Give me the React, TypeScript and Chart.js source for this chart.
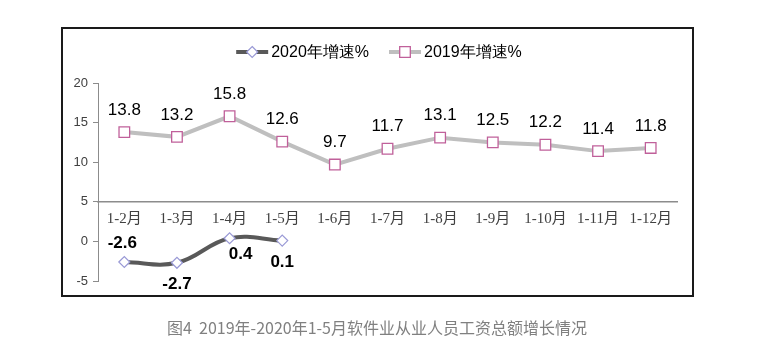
import React, { useEffect, useRef } from 'react';
import { Chart, registerables } from 'chart.js';

Chart.register(...registerables);

const categories = ['1-2月', '1-3月', '1-4月', '1-5月', '1-6月', '1-7月', '1-8月', '1-9月', '1-10月', '1-11月', '1-12月'];
const growth2020 = [-2.6, -2.7, 0.4, 0.1];
const growth2019 = [13.8, 13.2, 15.8, 12.6, 9.7, 11.7, 13.1, 12.5, 12.2, 11.4, 11.8];
const label2020 = '2020年增速%';
const label2019 = '2019年增速%';
const yMin = -5;
const yMax = 20;
const yStep = 5;
const caption = '图4  2019年-2020年1-5月软件业从业人员工资总额增长情况';
// where each 2020 value label sits relative to its point
const anchors2020 = ['above', 'below', 'belowRight', 'below'];

const W = 777;
const H = 361;

const LABEL_FONT = '"Liberation Sans", Arial, sans-serif';

const valueLabelsPlugin = {
  id: 'valueLabels',
  afterDatasetsDraw(chart: any) {
    const ctx = chart.ctx;
    ctx.save();
    ctx.textAlign = 'center';
    ctx.textBaseline = 'middle';
    ctx.fillStyle = '#000';
    chart.data.datasets.forEach((ds: any, di: number) => {
      const meta = chart.getDatasetMeta(di);
      const bold = ds.label === label2020;
      ctx.font = (bold ? 'bold ' : '') + '17px ' + LABEL_FONT;
      meta.data.forEach((pt: any, i: number) => {
        const v = ds.data[i];
        if (v === null || v === undefined) return;
        let dx = 0;
        let dy = -22;
        if (bold) {
          const a = anchors2020[i];
          if (a === 'above') { dx = -2; dy = -19; }
          else if (a === 'below') { dy = 22; }
          else if (a === 'belowRight') { dx = 11; dy = 16; }
        }
        ctx.fillText(v.toFixed(1), pt.x + dx, pt.y + dy);
      });
    });
    ctx.restore();
  },
};

const customLegendPlugin = {
  id: 'customLegend',
  afterDraw(chart: any) {
    const ctx = chart.ctx;
    const y = 52;
    const lineLen = 32;
    const gapText = 3;
    const itemGap = 20;
    const centerX = 379;
    ctx.save();
    ctx.font = '16px ' + LABEL_FONT;
    const items = chart.data.datasets.map((ds: any) => ({ ds, tw: ctx.measureText(ds.label).width }));
    const total = items.reduce((s: number, it: any) => s + lineLen + gapText + it.tw, 0) + itemGap * (items.length - 1);
    let x = centerX - total / 2;
    items.forEach((it: any) => {
      const ds = it.ds;
      ctx.strokeStyle = ds.borderColor;
      ctx.lineWidth = ds.borderWidth;
      ctx.lineCap = 'butt';
      ctx.beginPath();
      ctx.moveTo(x, y);
      ctx.lineTo(x + lineLen, y);
      ctx.stroke();
      ctx.fillStyle = ds.pointBackgroundColor;
      ctx.strokeStyle = ds.pointBorderColor;
      ctx.lineWidth = ds.pointBorderWidth;
      const cx = x + lineLen / 2;
      const r = ds.pointRadius;
      ctx.beginPath();
      if (ds.pointStyle === 'rectRot') {
        ctx.moveTo(cx, y - r);
        ctx.lineTo(cx + r, y);
        ctx.lineTo(cx, y + r);
        ctx.lineTo(cx - r, y);
        ctx.closePath();
      } else {
        const s = r * Math.SQRT1_2;
        ctx.rect(cx - s, y - s, 2 * s, 2 * s);
      }
      ctx.fill();
      ctx.stroke();
      ctx.fillStyle = '#000';
      ctx.textAlign = 'left';
      ctx.textBaseline = 'middle';
      ctx.fillText(ds.label, x + lineLen + gapText, y + 1);
      x += lineLen + gapText + it.tw + itemGap;
    });
    ctx.restore();
  },
};

export default function App() {
  const ref = useRef<HTMLCanvasElement | null>(null);

  useEffect(() => {
    if (!ref.current) return;
    const chart = new Chart(ref.current, {
      type: 'line',
      data: {
        labels: categories,
        datasets: [
          {
            label: label2020,
            data: growth2020,
            borderColor: '#595959',
            borderWidth: 4,
            tension: 0.4,
            pointStyle: 'rectRot',
            pointRadius: 5.5,
            pointBackgroundColor: '#ffffff',
            pointBorderColor: '#9a9ad6',
            pointBorderWidth: 1.2,
            fill: false,
          },
          {
            label: label2019,
            data: growth2019,
            borderColor: '#bfbfbf',
            borderWidth: 4,
            tension: 0,
            pointStyle: 'rect',
            pointRadius: 7.5,
            pointBackgroundColor: '#ffffff',
            pointBorderColor: '#c0609a',
            pointBorderWidth: 1.3,
            fill: false,
          },
        ] as any,
      },
      options: {
        animation: false,
        responsive: false,
        events: [],
        layout: { padding: { left: 48, right: 100, top: 83, bottom: 80 } },
        plugins: {
          legend: { display: false },
          tooltip: { enabled: false },
          title: { display: false },
        },
        scales: {
          x: {
            type: 'category',
            offset: true,
            position: { y: 5 } as any,
            grid: { display: true, drawOnChartArea: false, drawTicks: false, color: '#8c8c8c' },
            border: { display: true, color: '#8c8c8c', width: 1.5 },
            ticks: {
              padding: 8,
              color: '#404040',
              maxRotation: 0,
              autoSkip: false,
              font: { family: '"Liberation Serif", "Noto Sans CJK SC", serif', size: 15 },
            },
          },
          y: {
            min: yMin,
            max: yMax,
            afterFit(scale: any) { scale.width = 50; },
            grid: { display: true, drawOnChartArea: false, drawTicks: true, tickLength: 5, color: '#8c8c8c' },
            border: { display: true, color: '#8c8c8c', width: 1 },
            ticks: {
              stepSize: yStep,
              padding: 5,
              color: '#404040',
              font: { family: LABEL_FONT, size: 13 },
            },
          },
        },
      },
      plugins: [valueLabelsPlugin, customLegendPlugin],
    });
    return () => chart.destroy();
  }, []);

  return (
    <div style={{ position: 'absolute', left: 0, top: 0, width: W, height: H, background: '#fff' }}>
      <canvas ref={ref} width={W} height={H} style={{ position: 'absolute', left: 0, top: 0 }} />
      <div
        style={{
          position: 'absolute',
          left: 61,
          top: 27,
          width: 633,
          height: 270,
          border: '2px solid #1a1a1a',
          boxSizing: 'border-box',
          pointerEvents: 'none',
        }}
      />
      <div
        style={{
          position: 'absolute',
          left: 0,
          top: 316,
          width: 754,
          textAlign: 'center',
          fontFamily: '"Noto Sans CJK SC", sans-serif',
          fontSize: 16,
          lineHeight: '22px',
          color: '#808080',
          whiteSpace: 'pre',
        }}
      >
        {caption}
      </div>
    </div>
  );
}
